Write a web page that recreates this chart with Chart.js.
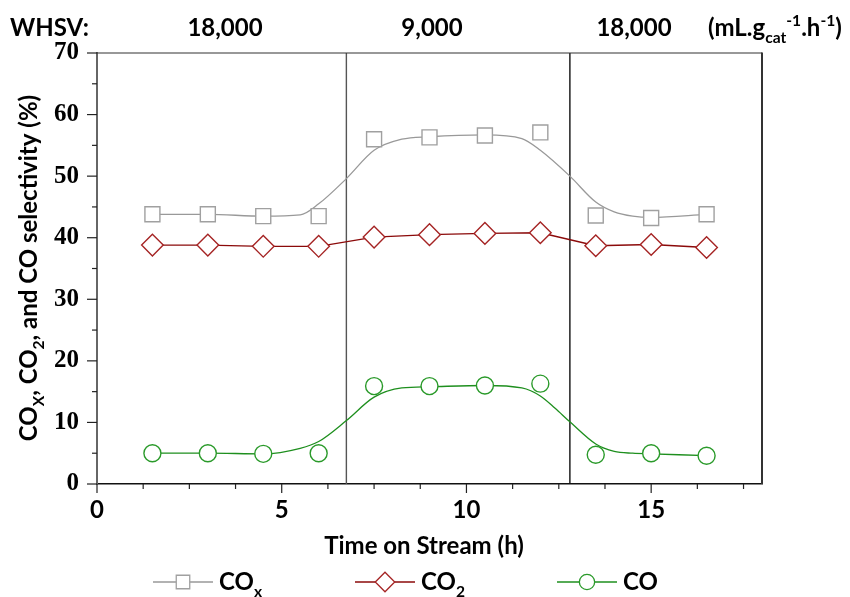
<!DOCTYPE html>
<html>
<head>
<meta charset="utf-8">
<script src="https://cdn.jsdelivr.net/npm/chart.js"></script>
<style>
  html, body { margin: 0; padding: 0; background: #fff; }
  #contenedor { width: 850px; height: 597px; position: relative; }
</style>
</head>
<body>
<div id="contenedor"><canvas id="grafica"></canvas></div>
<script>
// Datos
const tiempo = [1.5, 3, 4.5, 6, 7.5, 9, 10.5, 12, 13.5, 15, 16.5];
const selCOx = [43.8, 43.8, 43.5, 43.5, 56.0, 56.3, 56.6, 57.1, 43.6, 43.2, 43.8];
const selCO2 = [38.8, 38.8, 38.6, 38.6, 40.1, 40.5, 40.7, 40.8, 38.7, 38.9, 38.4];
const selCO = [5.0, 5.0, 4.9, 5.0, 15.9, 15.9, 16.0, 16.3, 4.75, 5.0, 4.6];

const ajusteCOxT = [1.5, 3, 4.5, 5.5, 6, 6.75, 7.5, 8.25, 9, 10.5, 11.5, 12, 12.8, 13.5, 14, 14.5, 15, 16.5];
const ajusteCOx = [43.8, 43.8, 43.5, 43.7, 45.5, 49.6, 54.2, 56.0, 56.4, 56.7, 56.1, 54.2, 50.0, 45.8, 44.2, 43.5, 43.3, 43.8];
const ajusteCOT = [1.5, 3, 4.5, 5.5, 6, 6.75, 7.5, 8.25, 9, 10.5, 11.5, 12, 12.4, 12.8, 13.5, 14, 14.5, 15, 16.5];
const ajusteCO = [5.0, 5.0, 4.9, 5.8, 6.9, 10.3, 14.1, 15.6, 15.8, 16.0, 15.6, 14.3, 12.3, 10.1, 6.5, 5.3, 5.0, 4.9, 4.6];

const cambiosWHSV = [6.75, 12.8];
const etiquetasWHSV = ['18,000', '9,000', '18,000'];
const ticksX = [0, 5, 10, 15];
const ticksY = [0, 10, 20, 30, 40, 50, 60, 70];

const FUENTE = 'Lato';
const TAM = 24;
const gris = '#999999', grisMarca = '#a0a0a0';
const rojo = '#8b0a0a', rojoMarca = '#a52424';
const verde = '#1e8f1e', verdeMarca = '#2a9a2a';

const pares = (xs, ys) => xs.map((x, i) => ({ x: x, y: ys[i] }));

// Texto con subíndices / superíndices
function textoRico(ctx, partes, x, y, tam, alinear) {
  const tamDe = p => p[1] === 'n' ? tam : tam * 0.65;
  let total = 0;
  partes.forEach(p => { ctx.font = `bold ${tamDe(p)}px ${FUENTE}`; total += ctx.measureText(p[0]).width; });
  let cx = alinear === 'center' ? x - total / 2 : (alinear === 'right' ? x - total : x);
  ctx.textAlign = 'left';
  ctx.textBaseline = 'alphabetic';
  partes.forEach(p => {
    ctx.font = `bold ${tamDe(p)}px ${FUENTE}`;
    const dy = p[1] === 'sub' ? tam * 0.3 : (p[1] === 'sup' ? -tam * 0.42 : 0);
    ctx.fillText(p[0], cx, y + dy);
    cx += ctx.measureText(p[0]).width;
  });
}

const decoracion = {
  id: 'decoracion',
  afterDraw(chart) {
    const ctx = chart.ctx;
    const a = chart.chartArea;
    const sx = chart.scales.x, sy = chart.scales.y;
    ctx.save();

    // marco superior y derecho
    ctx.strokeStyle = '#333';
    ctx.lineWidth = 1.2;
    ctx.beginPath();
    ctx.moveTo(a.left, a.top); ctx.lineTo(a.right, a.top);
    ctx.stroke();
    ctx.lineWidth = 2;
    ctx.beginPath();
    ctx.moveTo(a.right, a.top - 0.5); ctx.lineTo(a.right, a.bottom);
    ctx.stroke();

    // marcas de los ejes
    ctx.strokeStyle = '#222';
    ctx.lineWidth = 1.2;
    for (let v = 0; v <= 18.01; v += 1.25) {
      const px = sx.getPixelForValue(v);
      const largo = (Math.abs(v % 5) < 0.01) ? 9 : 5;
      ctx.beginPath(); ctx.moveTo(px, a.bottom); ctx.lineTo(px, a.bottom + largo); ctx.stroke();
    }
    for (let v = 0; v <= 70; v += 5) {
      const py = sy.getPixelForValue(v);
      const largo = (v % 10 === 0) ? 10 : 5;
      ctx.beginPath(); ctx.moveTo(a.left - largo, py); ctx.lineTo(a.left, py); ctx.stroke();
    }

    ctx.fillStyle = '#000';
    // encabezado WHSV
    textoRico(ctx, [['WHSV:', 'n']], 10, 36, TAM, 'left');
    const centros = [225, 432, 634];
    etiquetasWHSV.forEach((t, i) => textoRico(ctx, [[t, 'n']], centros[i], 36, TAM, 'center'));
    textoRico(ctx, [['(mL.g', 'n'], ['cat', 'sub'], ['-1', 'sup'], ['.h', 'n'], ['-1', 'sup'], [')', 'n']], 708, 36, TAM, 'left');

    // título eje x
    textoRico(ctx, [['Time on Stream (h)', 'n']], 424, 554, TAM, 'center');

    // título eje y
    ctx.save();
    ctx.translate(37, 268);
    ctx.rotate(-Math.PI / 2);
    textoRico(ctx, [['CO', 'n'], ['X', 'sub'], [', CO', 'n'], ['2', 'sub'], [', and CO selectivity (%)', 'n']], 0, 0, TAM, 'center');
    ctx.restore();

    // leyenda
    const items = [
      { x: 153, ds: chart.data.datasets[1], linea: gris, txt: [['CO', 'n'], ['x', 'sub']] },
      { x: 355, ds: chart.data.datasets[2], linea: rojo, txt: [['CO', 'n'], ['2', 'sub']] },
      { x: 557, ds: chart.data.datasets[0], linea: verde, txt: [['CO', 'n']] }
    ];
    const yl = 582;
    items.forEach(it => {
      ctx.strokeStyle = it.linea;
      ctx.lineWidth = 1.3;
      ctx.beginPath(); ctx.moveTo(it.x, yl); ctx.lineTo(it.x + 60, yl); ctx.stroke();
      ctx.fillStyle = '#fff';
      ctx.strokeStyle = it.ds.pointBorderColor;
      Chart.helpers.drawPoint(ctx, {
        pointStyle: it.ds.pointStyle,
        radius: it.ds.pointRadius * 0.9,
        borderWidth: it.ds.pointBorderWidth
      }, it.x + 30, yl);
      ctx.fillStyle = '#000';
      textoRico(ctx, it.txt, it.x + 66, yl + 8, TAM, 'left');
    });

    ctx.restore();
  }
};

const lineaVertical = (v, color) => ({
  data: [{ x: v, y: 0 }, { x: v, y: 70 }],
  borderColor: color,
  borderWidth: 1.4,
  pointRadius: 0,
  fill: false
});

const ctx = document.getElementById('grafica');
new Chart(ctx, {
  type: 'line',
  data: {
    datasets: [
      {
        label: 'CO',
        data: pares(tiempo, selCO),
        showLine: false,
        pointStyle: 'circle',
        pointRadius: 8.5,
        pointBorderWidth: 1.4,
        pointBorderColor: verdeMarca,
        pointBackgroundColor: '#fff'
      },
      {
        label: 'COx',
        data: pares(tiempo, selCOx),
        showLine: false,
        pointStyle: 'rect',
        pointRadius: 10.6,
        pointBorderWidth: 1.4,
        pointBorderColor: grisMarca,
        pointBackgroundColor: '#fff'
      },
      {
        label: 'CO2',
        data: pares(tiempo, selCO2),
        borderColor: rojo,
        borderWidth: 1.4,
        tension: 0,
        pointStyle: 'rectRot',
        pointRadius: 10.8,
        pointBorderWidth: 1.4,
        pointBorderColor: rojoMarca,
        pointBackgroundColor: '#fff'
      },
      {
        label: 'ajuste COx',
        data: pares(ajusteCOxT, ajusteCOx),
        borderColor: gris,
        borderWidth: 1.3,
        pointRadius: 0,
        cubicInterpolationMode: 'monotone'
      },
      {
        label: 'ajuste CO',
        data: pares(ajusteCOT, ajusteCO),
        borderColor: verde,
        borderWidth: 1.3,
        pointRadius: 0,
        cubicInterpolationMode: 'monotone'
      },
      lineaVertical(cambiosWHSV[0], '#555'),
      lineaVertical(cambiosWHSV[1], '#111')
    ]
  },
  options: {
    responsive: true,
    maintainAspectRatio: false,
    animation: false,
    layout: { padding: { top: 53, right: 88, left: 0, bottom: 0 } },
    plugins: { legend: { display: false }, tooltip: { enabled: false } },
    scales: {
      x: {
        type: 'linear',
        min: 0,
        max: 18,
        afterFit: s => { s.height = 597 - 484; },
        afterBuildTicks: s => { s.ticks = ticksX.map(v => ({ value: v })); },
        grid: { display: false, drawTicks: false },
        border: { display: true, color: '#111', width: 1.6 },
        ticks: {
          padding: 12,
          color: '#000',
          font: { family: FUENTE, size: TAM, weight: 'bold' },
          callback: v => String(v)
        }
      },
      y: {
        type: 'linear',
        min: 0,
        max: 70,
        afterFit: s => { s.width = 97; },
        afterBuildTicks: s => { s.ticks = ticksY.map(v => ({ value: v })); },
        grid: { display: false, drawTicks: false },
        border: { display: true, color: '#666', width: 2 },
        ticks: {
          padding: 18,
          color: '#000',
          font: { family: 'Liberation Serif', size: 25, weight: 'bold' },
          callback: v => String(v)
        }
      }
    }
  },
  plugins: [decoracion]
});
</script>
</body>
</html>
